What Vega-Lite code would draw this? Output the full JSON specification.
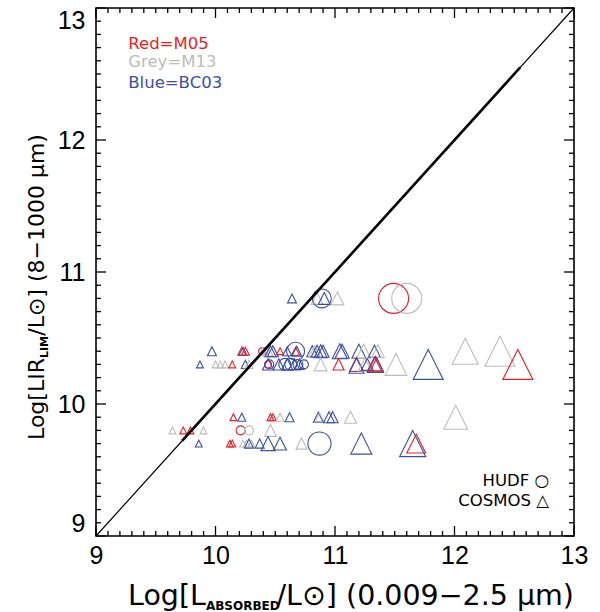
{
  "$schema": "https://vega.github.io/schema/vega-lite/v6.json",
  "width": 478,
  "height": 528,
  "autosize": "none",
  "padding": {"left": 96, "top": 8, "right": 26, "bottom": 76},
  "background": "white",
  "config": {
    "view": {"stroke": "black", "strokeWidth": 1.6},
    "font": "Liberation Sans",
    "axis": {"domain": false, "grid": false, "ticks": false, "tickCount": 4,
      "labelFont": "Liberation Sans", "labelFontSize": 25, "labelColor": "black",
      "labelOverlap": false, "labelBound": false},
    "axisX": {"labelPadding": 7, "labelFlush": false},
    "axisY": {"labelPadding": 11, "labelFlush": true}
  },
  "datasets": {
    "pts": [
      {"x":10.64,"y":10.8,"model":"BC03","survey":"COSMOS","z":3},
      {"x":10.85,"y":10.8,"model":"M13","survey":"COSMOS","z":4},
      {"x":10.89,"y":10.8,"model":"BC03","survey":"HUDF","z":6.3},
      {"x":10.91,"y":10.8,"model":"BC03","survey":"COSMOS","z":4},
      {"x":11.02,"y":10.8,"model":"M13","survey":"COSMOS","z":4.3},
      {"x":11.49,"y":10.8,"model":"M05","survey":"HUDF","z":10},
      {"x":11.60,"y":10.8,"model":"M13","survey":"HUDF","z":10},

      {"x":9.97,"y":10.4,"model":"BC03","survey":"COSMOS","z":3},
      {"x":10.22,"y":10.4,"model":"M05","survey":"COSMOS","z":2.7},
      {"x":10.23,"y":10.4,"model":"BC03","survey":"COSMOS","z":2.7},
      {"x":10.25,"y":10.4,"model":"M05","survey":"COSMOS","z":2.7},
      {"x":10.39,"y":10.4,"model":"M05","survey":"HUDF","z":2.3},
      {"x":10.41,"y":10.4,"model":"M13","survey":"HUDF","z":2.3},
      {"x":10.44,"y":10.4,"model":"M13","survey":"COSMOS","z":3.3},
      {"x":10.46,"y":10.4,"model":"BC03","survey":"COSMOS","z":3.7},
      {"x":10.48,"y":10.4,"model":"BC03","survey":"COSMOS","z":3.7},
      {"x":10.54,"y":10.4,"model":"M05","survey":"COSMOS","z":2.3},
      {"x":10.60,"y":10.4,"model":"BC03","survey":"COSMOS","z":3},
      {"x":10.67,"y":10.4,"model":"BC03","survey":"HUDF","z":6},
      {"x":10.67,"y":10.4,"model":"M05","survey":"COSMOS","z":2.7},
      {"x":10.68,"y":10.4,"model":"BC03","survey":"COSMOS","z":3.3},
      {"x":10.81,"y":10.4,"model":"BC03","survey":"COSMOS","z":3.7},
      {"x":10.83,"y":10.4,"model":"M13","survey":"COSMOS","z":3.7},
      {"x":10.85,"y":10.4,"model":"BC03","survey":"COSMOS","z":4},
      {"x":10.88,"y":10.4,"model":"BC03","survey":"COSMOS","z":4.3},
      {"x":10.90,"y":10.4,"model":"BC03","survey":"COSMOS","z":4},
      {"x":11.04,"y":10.4,"model":"BC03","survey":"COSMOS","z":5},
      {"x":11.06,"y":10.4,"model":"BC03","survey":"COSMOS","z":4.7},
      {"x":11.20,"y":10.4,"model":"BC03","survey":"COSMOS","z":4.7},
      {"x":11.24,"y":10.4,"model":"M13","survey":"COSMOS","z":4.7},
      {"x":11.33,"y":10.4,"model":"BC03","survey":"COSMOS","z":4},
      {"x":11.36,"y":10.4,"model":"M13","survey":"COSMOS","z":4.3},
      {"x":12.09,"y":10.4,"model":"M13","survey":"COSMOS","z":8.7},
      {"x":12.38,"y":10.4,"model":"M13","survey":"COSMOS","z":10},

      {"x":9.87,"y":10.3,"model":"BC03","survey":"COSMOS","z":2.3},
      {"x":10.00,"y":10.3,"model":"M13","survey":"COSMOS","z":2.3},
      {"x":10.04,"y":10.3,"model":"M13","survey":"COSMOS","z":2.3},
      {"x":10.08,"y":10.3,"model":"M13","survey":"COSMOS","z":2.3},
      {"x":10.14,"y":10.3,"model":"M05","survey":"COSMOS","z":2.3},
      {"x":10.25,"y":10.3,"model":"BC03","survey":"COSMOS","z":2.7},
      {"x":10.28,"y":10.3,"model":"M13","survey":"COSMOS","z":2.7},
      {"x":10.44,"y":10.3,"model":"BC03","survey":"COSMOS","z":3.7},
      {"x":10.44,"y":10.3,"model":"M05","survey":"HUDF","z":2.3},
      {"x":10.45,"y":10.3,"model":"BC03","survey":"HUDF","z":3},
      {"x":10.53,"y":10.3,"model":"BC03","survey":"COSMOS","z":3.7},
      {"x":10.58,"y":10.3,"model":"BC03","survey":"HUDF","z":4},
      {"x":10.60,"y":10.3,"model":"BC03","survey":"COSMOS","z":3.7},
      {"x":10.63,"y":10.3,"model":"BC03","survey":"HUDF","z":4},
      {"x":10.66,"y":10.3,"model":"BC03","survey":"COSMOS","z":3.7},
      {"x":10.69,"y":10.3,"model":"BC03","survey":"HUDF","z":3.3},
      {"x":10.70,"y":10.3,"model":"BC03","survey":"COSMOS","z":3.3},
      {"x":10.74,"y":10.3,"model":"BC03","survey":"HUDF","z":3},
      {"x":10.88,"y":10.3,"model":"M13","survey":"COSMOS","z":4.3},
      {"x":11.03,"y":10.3,"model":"M05","survey":"COSMOS","z":3.7},
      {"x":11.18,"y":10.3,"model":"M05","survey":"COSMOS","z":4.7},
      {"x":11.18,"y":10.29,"model":"BC03","survey":"COSMOS","z":5},
      {"x":11.25,"y":10.3,"model":"M13","survey":"COSMOS","z":4.3},
      {"x":11.27,"y":10.3,"model":"BC03","survey":"COSMOS","z":4},
      {"x":11.33,"y":10.3,"model":"M05","survey":"COSMOS","z":5},
      {"x":11.35,"y":10.3,"model":"M05","survey":"COSMOS","z":4.3},
      {"x":11.34,"y":10.3,"model":"BC03","survey":"COSMOS","z":5.3},
      {"x":11.51,"y":10.3,"model":"M13","survey":"COSMOS","z":7.3},
      {"x":11.78,"y":10.3,"model":"BC03","survey":"COSMOS","z":10},
      {"x":12.53,"y":10.3,"model":"M05","survey":"COSMOS","z":10},

      {"x":10.15,"y":9.9,"model":"M05","survey":"COSMOS","z":2.3},
      {"x":10.22,"y":9.9,"model":"BC03","survey":"COSMOS","z":2.7},
      {"x":10.46,"y":9.9,"model":"M05","survey":"COSMOS","z":2.3},
      {"x":10.48,"y":9.9,"model":"M05","survey":"COSMOS","z":2.3},
      {"x":10.54,"y":9.9,"model":"M13","survey":"COSMOS","z":2.7},
      {"x":10.62,"y":9.9,"model":"BC03","survey":"COSMOS","z":3},
      {"x":10.86,"y":9.9,"model":"BC03","survey":"COSMOS","z":3.3},
      {"x":10.87,"y":9.9,"model":"M13","survey":"COSMOS","z":3},
      {"x":10.95,"y":9.9,"model":"BC03","survey":"COSMOS","z":3.7},
      {"x":10.98,"y":9.9,"model":"BC03","survey":"COSMOS","z":3.7},
      {"x":11.13,"y":9.9,"model":"M13","survey":"COSMOS","z":4},
      {"x":12.01,"y":9.9,"model":"M13","survey":"COSMOS","z":8},

      {"x":9.64,"y":9.8,"model":"M13","survey":"COSMOS","z":2.3},
      {"x":9.73,"y":9.8,"model":"M05","survey":"COSMOS","z":2.3},
      {"x":9.79,"y":9.8,"model":"M05","survey":"COSMOS","z":2.3},
      {"x":9.90,"y":9.8,"model":"M13","survey":"COSMOS","z":2.3},
      {"x":10.21,"y":9.8,"model":"M05","survey":"HUDF","z":3},
      {"x":10.28,"y":9.8,"model":"M13","survey":"HUDF","z":3},
      {"x":10.46,"y":9.8,"model":"M13","survey":"COSMOS","z":4},

      {"x":9.86,"y":9.7,"model":"BC03","survey":"COSMOS","z":2.3},
      {"x":10.12,"y":9.7,"model":"M05","survey":"COSMOS","z":2.3},
      {"x":10.14,"y":9.7,"model":"M05","survey":"COSMOS","z":2.3},
      {"x":10.23,"y":9.7,"model":"M13","survey":"COSMOS","z":2.3},
      {"x":10.26,"y":9.7,"model":"M13","survey":"COSMOS","z":2.3},
      {"x":10.30,"y":9.7,"model":"M13","survey":"COSMOS","z":2.3},
      {"x":10.28,"y":9.7,"model":"BC03","survey":"COSMOS","z":3},
      {"x":10.37,"y":9.7,"model":"BC03","survey":"COSMOS","z":3},
      {"x":10.44,"y":9.7,"model":"BC03","survey":"COSMOS","z":4.7},
      {"x":10.54,"y":9.7,"model":"BC03","survey":"COSMOS","z":4.3},
      {"x":10.72,"y":9.7,"model":"M13","survey":"COSMOS","z":3.7},
      {"x":10.87,"y":9.7,"model":"BC03","survey":"HUDF","z":7.7},
      {"x":11.22,"y":9.7,"model":"BC03","survey":"COSMOS","z":7},
      {"x":11.65,"y":9.7,"model":"BC03","survey":"COSMOS","z":8.7},
      {"x":11.68,"y":9.7,"model":"M05","survey":"COSMOS","z":6.3}
    ],
    "ticks": [
      {"v":9},{"v":9.1},{"v":9.2},{"v":9.3},{"v":9.4},{"v":9.5},{"v":9.6},{"v":9.7},{"v":9.8},{"v":9.9},
      {"v":10},{"v":10.1},{"v":10.2},{"v":10.3},{"v":10.4},{"v":10.5},{"v":10.6},{"v":10.7},{"v":10.8},{"v":10.9},
      {"v":11},{"v":11.1},{"v":11.2},{"v":11.3},{"v":11.4},{"v":11.5},{"v":11.6},{"v":11.7},{"v":11.8},{"v":11.9},
      {"v":12},{"v":12.1},{"v":12.2},{"v":12.3},{"v":12.4},{"v":12.5},{"v":12.6},{"v":12.7},{"v":12.8},{"v":12.9},
      {"v":13}
    ],
    "diag": [{"x":9,"y":9},{"x":13,"y":13}],
    "diagThick": [{"x":9.72,"y":9.72},{"x":12.55,"y":12.55}],
    "models": [
      {"t":"Red=M05","model":"M05","x":9.27,"y":12.727},
      {"t":"Grey=M13","model":"M13","x":9.27,"y":12.59},
      {"t":"Blue=BC03","model":"BC03","x":9.27,"y":12.43}
    ],
    "surveys": [
      {"t":"HUDF ○","x":12.79,"y":9.417},
      {"t":"COSMOS △","x":12.79,"y":9.265}
    ],
    "xtitle": [
      {"t":"Log[L","x":9.92,"y":8.477},
      {"t":"/L⊙] (0.009−2.5 μm)","x":13.0,"y":8.477}
    ],
    "xsub": [{"t":"ABSORBED","x":9.92,"y":8.477}],
    "ytitle": [
      {"t":"Log[LIR","x":8.565,"y":10.348},
      {"t":"/L⊙] (8−1000 μm)","x":8.565,"y":12.045}
    ],
    "ysub": [{"t":"LIM","x":8.565,"y":10.348}]
  },
  "layer": [
    {
      "data": {"name": "pts"},
      "mark": {"type": "point", "filled": false, "strokeWidth": 1.1, "opacity": 1},
      "encoding": {
        "x": {"field": "x", "type": "quantitative",
          "scale": {"domain": [9, 13], "nice": false, "zero": false},
          "axis": {"title": null}},
        "y": {"field": "y", "type": "quantitative",
          "scale": {"domain": [9, 13], "nice": false, "zero": false},
          "axis": {"title": null}},
        "color": {"field": "model", "type": "nominal",
          "scale": {"domain": ["M05", "M13", "BC03"], "range": ["#ee1d24", "#bcbcbc", "#3a4fa6"]},
          "legend": null},
        "shape": {"field": "survey", "type": "nominal",
          "scale": {"domain": ["HUDF", "COSMOS"], "range": ["circle", "M0,-1L-1,1L1,1Z"]},
          "legend": null},
        "size": {"field": "z", "type": "quantitative",
          "scale": {"type": "pow", "exponent": 2, "domain": [0, 10], "range": [0, 900]},
          "legend": null}
      }
    },
    {
      "data": {"name": "ticks"},
      "transform": [{"filter": "datum.v % 1 === 0"}],
      "mark": {"type": "tick", "orient": "vertical", "color": "black", "opacity": 1, "thickness": 1.3, "size": 10, "yOffset": -5},
      "encoding": {
        "x": {"field": "v", "type": "quantitative", "axis": {"title": null}},
        "y": {"value": "height"}
      }
    },
    {
      "data": {"name": "ticks"},
      "transform": [{"filter": "datum.v % 1 !== 0"}],
      "mark": {"type": "tick", "orient": "vertical", "color": "black", "opacity": 1, "thickness": 1.3, "size": 5, "yOffset": -2.5},
      "encoding": {
        "x": {"field": "v", "type": "quantitative", "axis": {"title": null}},
        "y": {"value": "height"}
      }
    },
    {
      "data": {"name": "ticks"},
      "transform": [{"filter": "datum.v % 1 === 0"}],
      "mark": {"type": "tick", "orient": "vertical", "color": "black", "opacity": 1, "thickness": 1.3, "size": 10, "yOffset": 5},
      "encoding": {
        "x": {"field": "v", "type": "quantitative", "axis": {"title": null}},
        "y": {"value": 0}
      }
    },
    {
      "data": {"name": "ticks"},
      "transform": [{"filter": "datum.v % 1 !== 0"}],
      "mark": {"type": "tick", "orient": "vertical", "color": "black", "opacity": 1, "thickness": 1.3, "size": 5, "yOffset": 2.5},
      "encoding": {
        "x": {"field": "v", "type": "quantitative", "axis": {"title": null}},
        "y": {"value": 0}
      }
    },
    {
      "data": {"name": "ticks"},
      "transform": [{"filter": "datum.v % 1 === 0"}],
      "mark": {"type": "tick", "orient": "horizontal", "color": "black", "opacity": 1, "thickness": 1.3, "size": 10, "xOffset": 5},
      "encoding": {
        "y": {"field": "v", "type": "quantitative", "axis": {"title": null}},
        "x": {"value": 0}
      }
    },
    {
      "data": {"name": "ticks"},
      "transform": [{"filter": "datum.v % 1 !== 0"}],
      "mark": {"type": "tick", "orient": "horizontal", "color": "black", "opacity": 1, "thickness": 1.3, "size": 5, "xOffset": 2.5},
      "encoding": {
        "y": {"field": "v", "type": "quantitative", "axis": {"title": null}},
        "x": {"value": 0}
      }
    },
    {
      "data": {"name": "ticks"},
      "transform": [{"filter": "datum.v % 1 === 0"}],
      "mark": {"type": "tick", "orient": "horizontal", "color": "black", "opacity": 1, "thickness": 1.3, "size": 10, "xOffset": -5},
      "encoding": {
        "y": {"field": "v", "type": "quantitative", "axis": {"title": null}},
        "x": {"value": "width"}
      }
    },
    {
      "data": {"name": "ticks"},
      "transform": [{"filter": "datum.v % 1 !== 0"}],
      "mark": {"type": "tick", "orient": "horizontal", "color": "black", "opacity": 1, "thickness": 1.3, "size": 5, "xOffset": -2.5},
      "encoding": {
        "y": {"field": "v", "type": "quantitative", "axis": {"title": null}},
        "x": {"value": "width"}
      }
    },
    {
      "data": {"name": "diag"},
      "mark": {"type": "line", "color": "black", "strokeWidth": 1.2},
      "encoding": {
        "x": {"field": "x", "type": "quantitative", "axis": {"title": null}},
        "y": {"field": "y", "type": "quantitative", "axis": {"title": null}}
      }
    },
    {
      "data": {"name": "diagThick"},
      "mark": {"type": "line", "color": "black", "strokeWidth": 2.6},
      "encoding": {
        "x": {"field": "x", "type": "quantitative", "axis": {"title": null}},
        "y": {"field": "y", "type": "quantitative", "axis": {"title": null}}
      }
    },
    {
      "data": {"name": "models"},
      "mark": {"type": "text", "align": "left", "baseline": "middle", "fontSize": 16.5, "font": "DejaVu Sans"},
      "encoding": {
        "x": {"field": "x", "type": "quantitative", "axis": {"title": null}},
        "y": {"field": "y", "type": "quantitative", "axis": {"title": null}},
        "text": {"field": "t"},
        "color": {"field": "model", "type": "nominal", "legend": null}
      }
    },
    {
      "data": {"name": "surveys"},
      "mark": {"type": "text", "align": "right", "baseline": "middle", "fontSize": 16.5, "color": "black", "font": "DejaVu Sans"},
      "encoding": {
        "x": {"field": "x", "type": "quantitative", "axis": {"title": null}},
        "y": {"field": "y", "type": "quantitative", "axis": {"title": null}},
        "text": {"field": "t"}
      }
    },
    {
      "data": {"name": "xtitle"},
      "mark": {"type": "text", "align": "right", "baseline": "alphabetic", "fontSize": 28.5, "color": "black", "font": "DejaVu Sans"},
      "encoding": {
        "x": {"field": "x", "type": "quantitative", "axis": {"title": null}},
        "y": {"field": "y", "type": "quantitative", "axis": {"title": null}},
        "text": {"field": "t"}
      }
    },
    {
      "data": {"name": "xsub"},
      "mark": {"type": "text", "align": "left", "baseline": "alphabetic", "fontSize": 12, "fontWeight": "bold", "dy": 5, "color": "black", "font": "DejaVu Sans"},
      "encoding": {
        "x": {"field": "x", "type": "quantitative", "axis": {"title": null}},
        "y": {"field": "y", "type": "quantitative", "axis": {"title": null}},
        "text": {"field": "t"}
      }
    },
    {
      "data": {"name": "ytitle"},
      "mark": {"type": "text", "align": "right", "baseline": "alphabetic", "angle": 270, "fontSize": 22, "color": "black", "font": "DejaVu Sans"},
      "encoding": {
        "x": {"field": "x", "type": "quantitative", "axis": {"title": null}},
        "y": {"field": "y", "type": "quantitative", "axis": {"title": null}},
        "text": {"field": "t"}
      }
    },
    {
      "data": {"name": "ysub"},
      "mark": {"type": "text", "align": "left", "baseline": "alphabetic", "angle": 270, "fontSize": 11, "fontWeight": "bold", "dy": 4, "color": "black", "font": "DejaVu Sans"},
      "encoding": {
        "x": {"field": "x", "type": "quantitative", "axis": {"title": null}},
        "y": {"field": "y", "type": "quantitative", "axis": {"title": null}},
        "text": {"field": "t"}
      }
    }
  ]
}
